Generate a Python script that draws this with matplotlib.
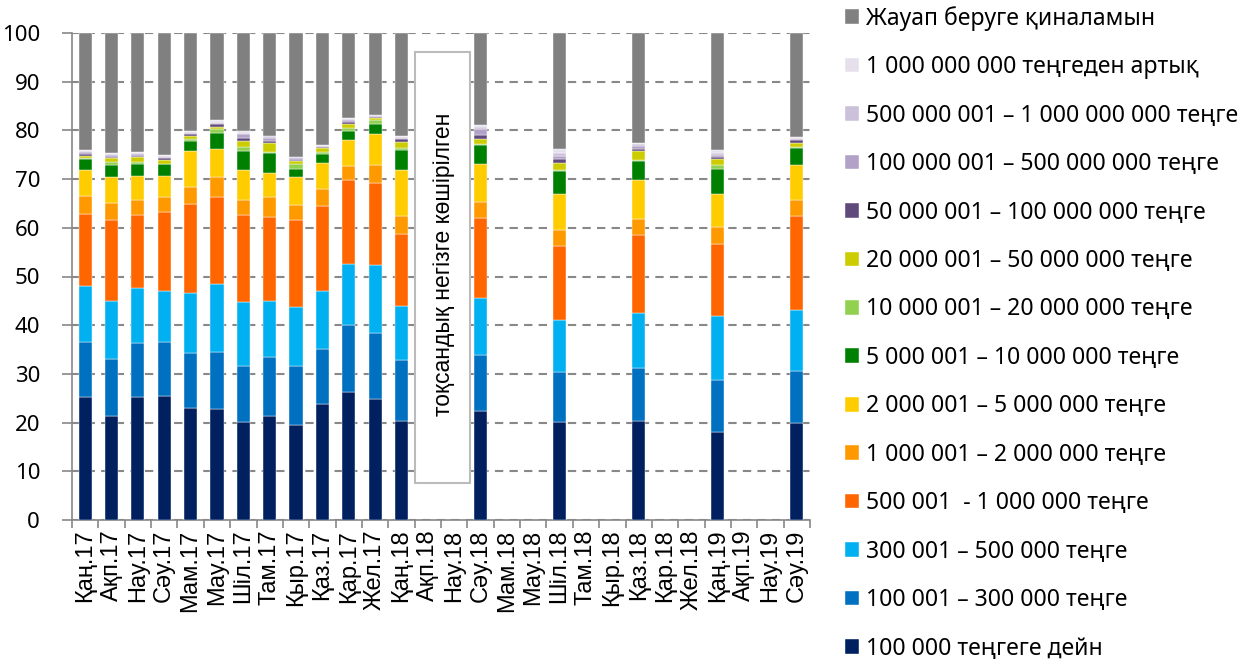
import matplotlib
matplotlib.use("Agg")
import matplotlib.pyplot as plt
from matplotlib.patches import Rectangle
import numpy as np

# Барлық айлар (ось бойынша)
months = ["Қаң.17", "Ақп.17", "Нау.17", "Сәу.17", "Мам.17", "Мау.17", "Шіл.17",
          "Там.17", "Қыр.17", "Қаз.17", "Қар.17", "Жел.17",
          "Қаң.18", "Ақп.18", "Нау.18", "Сәу.18", "Мам.18", "Мау.18", "Шіл.18",
          "Там.18", "Қыр.18", "Қаз.18", "Қар.18", "Жел.18",
          "Қаң.19", "Ақп.19", "Нау.19", "Сәу.19"]

# Деректері бар айлар
data_months = ["Қаң.17", "Ақп.17", "Нау.17", "Сәу.17", "Мам.17", "Мау.17", "Шіл.17",
               "Там.17", "Қыр.17", "Қаз.17", "Қар.17", "Жел.17", "Қаң.18",
               "Сәу.18", "Шіл.18", "Қаз.18", "Қаң.19", "Сәу.19"]

labels = ["100 000 теңгеге дейн",
          "100 001 – 300 000 теңге",
          "300 001 – 500 000 теңге",
          "500 001  - 1 000 000 теңге",
          "1 000 001 – 2 000 000 теңге",
          "2 000 001 – 5 000 000 теңге",
          "5 000 001 – 10 000 000 теңге",
          "10 000 001 – 20 000 000 теңге",
          "20 000 001 – 50 000 000 теңге",
          "50 000 001 – 100 000 000 теңге",
          "100 000 001 – 500 000 000 теңге",
          "500 000 001 – 1 000 000 000 теңге",
          "1 000 000 000 теңгеден артық",
          "Жауап беруге қиналамын"]

colors = ["#002060", "#0070C0", "#00B0F0", "#FF6600", "#FF9900", "#FFCC00",
          "#008000", "#92D050", "#CCCC00", "#604A7B", "#B3A2C7", "#CCC1DA",
          "#E6E0EC", "#808080"]

s_100k = [25.2, 21.4, 25.2, 25.4, 22.9, 22.7, 20.2, 21.4, 19.6, 23.9, 26.3, 24.8, 20.4, 22.4, 20.2, 20.4, 18.1, 20.0]
s_300k = [11.3, 11.6, 11.1, 11.2, 11.4, 11.8, 11.5, 12.0, 12.1, 11.3, 13.8, 13.7, 12.4, 11.5, 10.1, 10.9, 10.7, 10.5]
s_500k = [11.6, 11.9, 11.4, 10.5, 12.3, 14.0, 13.1, 11.5, 12.0, 11.8, 12.4, 13.8, 11.2, 11.6, 10.7, 11.3, 13.0, 12.7]
s_1m = [14.8, 16.6, 15.0, 16.2, 18.3, 17.8, 17.9, 17.4, 17.9, 17.5, 17.3, 17.0, 14.8, 16.5, 15.3, 16.0, 14.8, 19.3]
s_2m = [3.7, 3.6, 3.1, 3.0, 3.5, 4.2, 3.0, 4.0, 3.1, 3.5, 2.9, 3.5, 3.6, 3.3, 3.3, 3.2, 3.5, 3.3]
s_5m = [5.3, 5.3, 4.9, 4.3, 7.3, 5.6, 6.2, 5.0, 5.8, 5.4, 5.3, 6.4, 9.5, 7.7, 7.4, 8.0, 6.9, 7.0]
s_10m = [2.3, 2.5, 2.5, 2.5, 2.1, 3.4, 3.9, 4.1, 1.6, 1.8, 1.9, 2.1, 4.0, 4.0, 4.6, 4.0, 5.1, 3.5]
s_20m = [0.2, 0.6, 0.3, 0.1, 0.4, 0.7, 0.7, 0.2, 0.9, 0.4, 0.6, 0.8, 0.4, 0.3, 0.3, 0.2, 0.7, 0.2]
s_50m = [0.4, 0.8, 1.0, 0.8, 0.7, 0.6, 1.3, 1.9, 0.7, 0.7, 0.8, 0.5, 1.3, 0.9, 1.4, 1.7, 1.3, 1.0]
s_100m = [0.3, 0.3, 0.2, 0.3, 0.3, 0.5, 0.7, 0.3, 0.2, 0.2, 0.4, 0.2, 0.6, 0.9, 0.9, 0.5, 0.5, 0.5]
s_500m = [0.5, 0.4, 0.5, 0.3, 0.2, 0.3, 0.7, 0.7, 0.4, 0.2, 0.4, 0.2, 0.3, 1.2, 0.6, 0.6, 0.4, 0.3]
s_1b = [0.2, 0.2, 0.2, 0.2, 0.2, 0.2, 0.3, 0.3, 0.2, 0.1, 0.3, 0.1, 0.2, 0.4, 0.6, 0.4, 0.4, 0.2]
s_over1b = [0.2, 0.1, 0.2, 0.2, 0.2, 0.3, 0.3, 0.1, 0.1, 0.1, 0.2, 0.1, 0.2, 0.5, 0.7, 0.3, 0.5, 0.1]
s_na = [24.0, 24.7, 24.4, 25.0, 20.2, 17.9, 20.2, 21.1, 25.4, 23.1, 17.4, 16.8, 21.1, 18.8, 23.9, 22.5, 24.1, 21.4]

series = [s_100k, s_300k, s_500k, s_1m, s_2m, s_5m, s_10m, s_20m, s_50m,
          s_100m, s_500m, s_1b, s_over1b, s_na]

note = "тоқсандық негізге көшірілген"

plt.rcParams['font.family'] = ['Liberation Sans', 'DejaVu Sans']
calibri_like = ['Noto Sans', 'DejaVu Sans']

fig = plt.figure(figsize=(12.55, 6.62), dpi=100)
ax = fig.add_axes([72 / 1255, 1 - 520 / 662, (810 - 72) / 1255, (520 - 33) / 662])

x = np.array([months.index(m) for m in data_months])
bottom = np.zeros(len(x))
handles = []
for vals, lab, col in zip(series, labels, colors):
    vals = np.array(vals)
    b = ax.bar(x, vals, 0.5, bottom=bottom, color=col, label=lab,
               edgecolor='white', linewidth=0.3, zorder=3)
    handles.append(b)
    bottom += vals

ax.set_xlim(-0.5, len(months) - 0.5)
ax.set_ylim(0, 100)
ax.set_yticks(range(0, 101, 10))
ax.tick_params(axis='y', labelsize=16, length=7, color='#888888', width=1.2, pad=16)
for t in ax.get_yticklabels():
    t.set_family(calibri_like)
ax.set_xticks(range(len(months)))
ax.set_xticklabels(months, rotation=90, fontsize=17)
ax.tick_params(axis='x', length=0, pad=7)
ax.set_xticks(np.arange(-0.5, len(months), 1), minor=True)
ax.tick_params(axis='x', which='minor', length=6, color='#888888', width=1.2)

ax.grid(axis='y', color='#888888', linestyle=(0, (4, 3)), linewidth=1.5, zorder=0)
for sp in ['top', 'right']:
    ax.spines[sp].set_visible(False)
for sp in ['left', 'bottom']:
    ax.spines[sp].set_color('#888888')
    ax.spines[sp].set_linewidth(1.2)

# Тоқсандық кезеңге өту туралы белгі
ax.add_patch(Rectangle((12.52, 7.6), 2.08, 88.5, facecolor='white',
                       edgecolor='#BBBBBB', linewidth=1.5, zorder=4))
ax.text(13.6, 52.5, note, rotation=90, ha='center', va='center',
        fontsize=16.5, zorder=5)

fig.legend(handles[::-1], labels[::-1], loc='upper left',
           bbox_to_anchor=(845 / 1255, 1 - 6 / 662), frameon=False,
           prop={'family': calibri_like, 'size': 16.6},
           handlelength=0.6, handleheight=0.6, handletextpad=0.3,
           labelspacing=1.06, borderpad=0, borderaxespad=0)

fig.savefig("out.png", dpi=100)
